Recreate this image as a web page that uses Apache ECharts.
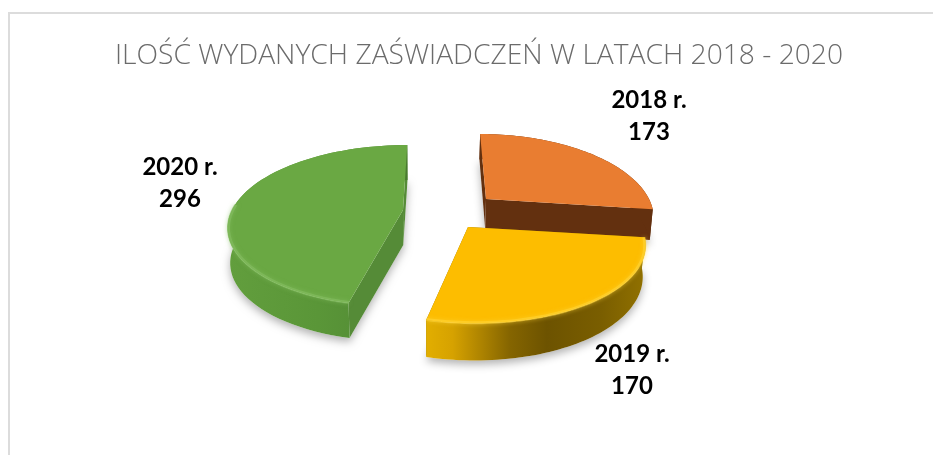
<!DOCTYPE html>
<html>
<head>
<meta charset="utf-8">
<style>html,body{margin:0;padding:0;background:#fff}#c{width:933px;height:455px}</style>
<script src="https://cdn.jsdelivr.net/npm/echarts@6/dist/echarts.min.js"></script>
</head>
<body>
<div id="c"></div>
<script>
const titleText = 'ILOŚĆ WYDANYCH ZAŚWIADCZEŃ W LATACH 2018 - 2020';
const categories = ['2018 r.', '2019 r.', '2020 r.'];
const values = [173, 170, 296];

// perspective layout of the tilted, exploded pie
const P = 0.194, KR = 77.6, VX = 425, SHRINK = 0.013;
const layout = [
  {cx:486, cy:199, R:163, s:-0.043, T:30, g:1, lx:649, ly:116},
  {cx:468, cy:227, R:173, s:-0.034, T:30, g:1, lx:632, ly:370},
  {cx:403, cy:210, R:171, s:0.030,  T:35, g:0, lx:180, ly:183}
];
const skins = [
  {top:'#e97d31', chord:'#63300f', wall:'#63300f', rim:null},
  {top:'#fdbd00', chord:'#8a6c00',
   wall:[[0,'#e2ae00'],[0.12,'#d6a200'],[0.38,'#856500'],[0.55,'#6d5300'],[0.8,'#7a5e00'],[1,'#917100']],
   rim:'#ffd53a'},
  {top:'#6aa843', chord:'#558b37',
   wall:[[0,'#629e3d'],[0.5,'#5a9638'],[0.85,'#538c35'],[1,'#497a2f']],
   rim:'#86c064'}
];
const total = values.reduce((a,b)=>a+b,0);
const bounds = []; let acc = 0;
values.forEach(v=>{ bounds.push([acc/total*Math.PI*2,(acc+v)/total*Math.PI*2]); acc+=v; });

function facePoint(l,t){
  const X=Math.sin(t),Y=Math.cos(t),w=1+P*Y;
  return {x:l.cx+l.R*(X+l.s*Y)/w, y:l.cy-KR*Y/w, w:w};
}
function faceRadial(l,t,f){
  const X=f*Math.sin(t),Y=f*Math.cos(t),w=1+P*Y;
  return [l.cx+l.R*(X+l.s*Y)/w, l.cy-KR*Y/w];
}
function low(l,p){ return [p.x+(VX-p.x)*SHRINK, p.y+l.T/Math.pow(p.w,l.g)]; }

function renderItem(params){
  const i=params.dataIndex,l=layout[i],sk=skins[i],b=bounds[i];
  const n=64,arc=[];
  for(let k=0;k<=n;k++) arc.push(facePoint(l,b[0]+(b[1]-b[0])*k/n));
  const ctr={x:l.cx,y:l.cy,w:1};
  const tp=arc.map(p=>[p.x,p.y]), lo=arc.map(p=>low(l,p));
  const wallFill=Array.isArray(sk.wall)
    ? new echarts.graphic.LinearGradient(0,0,1,0,sk.wall.map(s=>({offset:s[0],color:s[1]})))
    : sk.wall;
  const poly=(pts,fill,extra)=>({type:'polygon',shape:{points:pts},style:Object.assign({fill:fill},extra||{})});
  const kids=[];
  // soft ground shadow
  kids.push(poly([low(l,ctr)].concat(lo),'#fff',{shadowBlur:9,shadowColor:'rgba(0,0,0,0.3)',shadowOffsetY:4}));
  // radial walls, then outer wall, then top face
  [arc[0],arc[n]].forEach(p=>{
    kids.push(poly([[ctr.x,ctr.y],[p.x,p.y],low(l,p),low(l,ctr)],sk.chord));
  });
  kids.push(poly(tp.concat(lo.slice().reverse()),wallFill));
  kids.push(poly([[ctr.x,ctr.y]].concat(tp),sk.top));
  // bevel highlight on the visible front of the rim
  if(sk.rim){
    const rim=[];
    for(let k=0;k<=n;k++){
      const t=b[0]+(b[1]-b[0])*k/n;
      if(Math.cos(t)<0.1) rim.push(faceRadial(l,t,0.995));
    }
    kids.push({type:'polyline',shape:{points:rim},
      style:{fill:null,stroke:sk.rim,lineWidth:3,opacity:0.55,shadowBlur:4,shadowColor:sk.rim}});
  }
  // data label
  kids.push({type:'text',style:{
    text:categories[i]+'\n'+values[i],x:l.lx,y:l.ly,align:'center',verticalAlign:'middle',
    font:'bold 24px Lato',lineHeight:32,fill:'#000'}});
  return {type:'group',children:kids};
}

const chart=echarts.init(document.getElementById('c'),null,{renderer:'canvas'});
chart.setOption({
  animation:false,
  backgroundColor:'#ffffff',
  title:{text:titleText,left:474,top:37,textAlign:'center',
    textStyle:{fontFamily:'Open Sans',fontWeight:300,fontSize:28.2,color:'#6b6b6b'}},
  graphic:[{type:'rect',silent:true,z:-1,
    shape:{x:9,y:13,width:1200,height:900},
    style:{fill:'#fff',stroke:'#dcdcdc',lineWidth:2}}],
  series:[{
    type:'custom',coordinateSystem:'none',silent:true,
    renderItem:renderItem,
    data:values
  }]
});
</script>
</body>
</html>
